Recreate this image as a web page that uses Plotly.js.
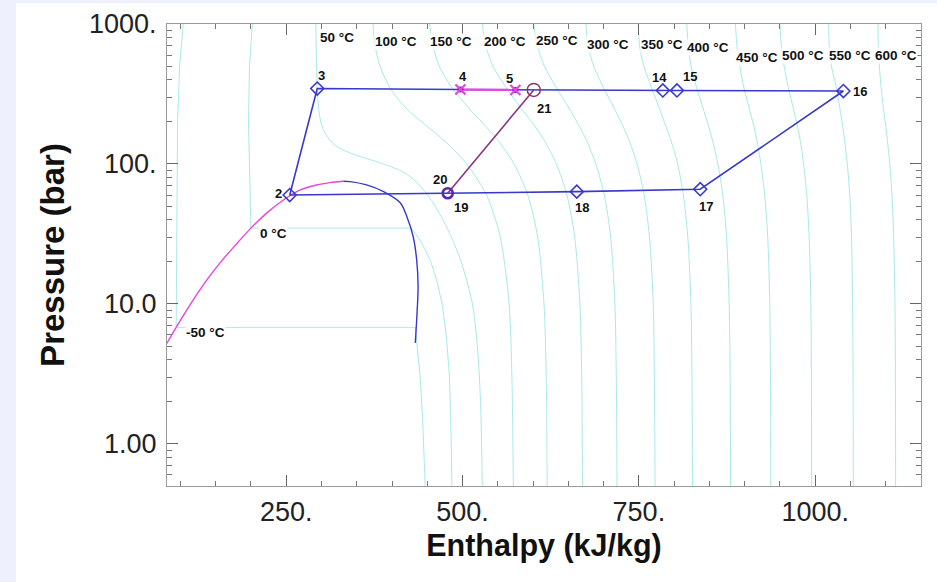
<!DOCTYPE html>
<html><head><meta charset="utf-8">
<script src="https://cdn.plot.ly/plotly-3.0.1.min.js"></script>
<style>html,body{margin:0;padding:0;background:#fff;}#chart{width:937px;height:582px;}</style>
</head><body><div id="chart"></div>
<script>
// ---------- data ----------
// cycle state points: enthalpy (kJ/kg), pressure (bar)
const pointNames = ['2','3','4','5','21','14','15','16','17','18','19','20'];
const pointH     = [255, 294, 497, 575, 601, 784, 804, 1040, 837, 662, 479, 479];
const pointP     = [60.0, 346, 340, 338, 338, 335, 335, 332, 66.0, 63.4, 61.8, 61.8];

const loopOrder    = ['2','3','4','5','21','14','15','16','17','18','19','2'];
const diamondPts   = ['2','3','14','15','16','17','18'];
const crossPts     = ['4','5'];
const magentaSeg   = ['4','5'];
const purpleSeg    = ['20','21'];

// saturation dome
const satLiqH = [80.5, 94, 115, 136, 157, 178, 200, 223, 246, 270, 293, 312, 331];
const satLiqP = [5.2, 6.8, 10.1, 14.5, 19.9, 26.3, 34.8, 44.9, 55.3, 65.2, 70.8, 73.6, 75.2];
const satVapH = [331, 341, 364, 388, 412, 421, 430, 435, 437, 435, 433];
const satVapP = [75.2, 74.8, 70.8, 63.4, 52.6, 42.1, 30.3, 20.6, 13.3, 7.7, 5.27];

// isotherms
const isoM50H = [104, 99, 96, 95, 94.5, 94, 433, 436, 440, 443.5, 447];
const isoM50P = [1000, 500, 200, 60, 15, 6.8, 6.8, 5, 3, 1.5, 0.5];
const iso0H   = [202, 198, 196.5, 197.5, 200, 427, 437, 446, 455, 463, 471, 477, 481.5, 484, 485];
const iso0P   = [1000, 500, 200, 100, 34.8, 34.8, 30, 25, 20, 15, 10, 6, 3, 1, 0.5];
const iso50H  = [292, 292.5, 293, 294, 296, 299, 304, 311, 320, 332, 350, 375, 400, 420, 436, 456, 478, 498, 514, 521, 525.5, 528];
const iso50P  = [1000, 700, 500, 350, 250, 200, 170, 150, 135, 125, 115, 105, 95, 85, 73, 55, 35, 20, 10, 5, 2, 0.5];
const isoP    = [1000, 700, 500, 350, 250, 200, 150, 100, 60, 30, 10, 3, 0.5];
const iso100H = [373, 376, 383, 397, 420, 442, 472, 506, 534, 553.5, 566, 570, 572];
const iso150H = [453, 458, 467, 485, 509, 527, 549, 573, 592.5, 606.5, 615.5, 618.7, 620];
const iso200H = [528, 533, 543, 562, 583, 598, 615, 633, 648, 659, 666.4, 669, 670];
const iso250H = [601, 606, 616, 633, 651, 662, 675, 689, 701, 710, 716, 718, 719];
const iso300H = [675, 678, 686, 700, 715, 724.5, 735.5, 747.5, 757.5, 765, 770.4, 772, 773];
const iso350H = [749, 751, 757, 768, 779, 786, 795, 805, 813, 819.4, 823.8, 825.3, 826];
const iso400H = [818, 820, 824, 832, 841, 847, 854, 862, 869, 874.3, 878, 879.4, 880];
const iso450H = [887, 889, 893, 899, 906.5, 911.5, 917, 923, 928.4, 932.7, 935.6, 936.6, 937];
const iso500H = [950, 952, 956, 962, 969, 973.5, 978.5, 983.5, 988, 991.4, 993.8, 994.6, 995];
const iso550H = [1019, 1020, 1023, 1030, 1035, 1038, 1041.5, 1045.5, 1049, 1051.5, 1053, 1053.7, 1054];
const iso600H = [1089, 1089.5, 1091, 1093.5, 1096.7, 1099.2, 1102.2, 1105.7, 1108.8, 1111.3, 1113.1, 1113.7, 1114];

const tempLabels = ['50 °C','100 °C','150 °C','200 °C','250 °C','300 °C','350 °C','400 °C','450 °C','500 °C','550 °C','600 °C','0 °C','-50 °C'];

const xTickVals = [250, 500, 750, 1000];
const xTickText = ['250.', '500.', '750.', '1000.'];
const yTickVals = [1, 10, 100, 1000];
const yTickText = ['1.00', '10.0', '100.', '1000.'];

// ---------- layout helpers (positions/styles only) ----------
const X0 = 167, PW = 754, Y0 = 24, PH = 462;
const pxX = px => (px - X0) / PW;
const pxY = py => (Y0 + PH - py) / PH;
const tempLabelPx = [[337,37.3],[396,41.7],[451,41.7],[505,41.7],[557,40],[608,44.3],[662,44.3],[708,47.3],[756.5,57.3],[803,55.7],[850,55.7],[895.5,55.7],[273,233.3],[205.5,332.3]];
const pointLabelShift = {'2':[-11.6,1.7],'3':[4.4,12.6],'4':[2.7,13.3],'5':[-5.5,11.7],'21':[10,-18.3],'14':[-3.4,13.3],'15':[12.6,14.3],'16':[16.7,-0.7],'17':[6,-17.4],'18':[5,-16],'19':[13.3,-14.4],'20':[-7.7,13.3]};

const FONT = 'Liberation Sans, Arial, Helvetica, sans-serif';
const ISO = '#a9e9e9';
const BLUE = '#3838cc';
const PINK = '#e645e0';
const PURPLE = '#8c3580';

const idx = n => pointNames.indexOf(n);
const hOf = list => list.map(n => pointH[idx(n)]);
const pOf = list => list.map(n => pointP[idx(n)]);

const traces = [];
function iso(h, p, shape) {
  traces.push({x: h, y: p, type: 'scatter', mode: 'lines', hoverinfo: 'skip',
    line: {color: ISO, width: 1, shape: shape || 'spline', smoothing: 0.8}});
}
iso(isoM50H, isoM50P, 'linear');
iso(iso0H, iso0P, 'linear');
iso(iso50H, iso50P);
[iso100H, iso150H, iso200H, iso250H, iso300H, iso350H, iso400H, iso450H, iso500H, iso550H, iso600H].forEach(h => iso(h, isoP));

traces.push({x: satLiqH, y: satLiqP, type: 'scatter', mode: 'lines', line: {color: PINK, width: 1.4, shape: 'spline', smoothing: 0.8}});
traces.push({x: satVapH, y: satVapP, type: 'scatter', mode: 'lines', line: {color: BLUE, width: 1.4, shape: 'spline', smoothing: 0.8}});
traces.push({x: hOf(loopOrder), y: pOf(loopOrder), type: 'scatter', mode: 'lines', line: {color: BLUE, width: 1.6}});
traces.push({x: hOf(magentaSeg), y: pOf(magentaSeg), type: 'scatter', mode: 'lines', line: {color: PINK, width: 2.2}});
traces.push({x: hOf(purpleSeg), y: pOf(purpleSeg), type: 'scatter', mode: 'lines', line: {color: PURPLE, width: 1.6}});
traces.push({x: hOf(diamondPts), y: pOf(diamondPts), type: 'scatter', mode: 'markers',
  marker: {symbol: 'diamond-open', size: 10, line: {color: BLUE, width: 1.6}, color: BLUE}});
traces.push({x: hOf(crossPts), y: pOf(crossPts), type: 'scatter', mode: 'markers',
  marker: {symbol: 'circle', size: 6, color: '#4a2ad8'}});
traces.push({x: hOf(crossPts), y: pOf(crossPts), type: 'scatter', mode: 'markers',
  marker: {symbol: 'x-thin-open', size: 10, line: {color: PINK, width: 2.2}, color: PINK}});
traces.push({x: hOf(['21']), y: pOf(['21']), type: 'scatter', mode: 'markers',
  marker: {symbol: 'circle-open', size: 13, line: {color: '#8a3468', width: 1.5}, color: '#8a3468'}});
traces.push({x: hOf(['19']), y: pOf(['19']), type: 'scatter', mode: 'markers',
  marker: {symbol: 'circle-open', size: 10, line: {color: '#5a28b8', width: 2.6}, color: '#5a28b8'}});

const annotations = [];
pointNames.forEach((n, i) => {
  const s = pointLabelShift[n];
  annotations.push({x: pointH[i], y: Math.log10(pointP[i]), xref: 'x', yref: 'y', text: n, showarrow: false,
    xshift: s[0], yshift: s[1], font: {family: FONT, size: 13, color: '#111', weight: 'bold'}});
});
tempLabels.forEach((t, i) => {
  const p = tempLabelPx[i];
  annotations.push({x: pxX(p[0]), y: pxY(p[1]), xref: 'paper', yref: 'paper', text: t, showarrow: false,
    xanchor: 'center', yanchor: 'middle', bgcolor: 'white', borderpad: 0,
    font: {family: FONT, size: 13.5, color: '#111', weight: 'bold'}});
});

const axisCommon = {
  ticks: 'inside', ticklen: 11, tickwidth: 1, tickcolor: '#666',
  showline: true, linecolor: '#9a9a9a', linewidth: 1, mirror: 'ticks',
  showgrid: false, zeroline: false,
  tickfont: {family: FONT, size: 27, color: '#222'}
};

const layout = {
  width: 937, height: 582,
  margin: {l: X0, r: 937 - X0 - PW, t: Y0, b: 582 - Y0 - PH},
  paper_bgcolor: 'white', plot_bgcolor: 'white',
  showlegend: false,
  xaxis: Object.assign({}, axisCommon, {
    range: [81, 1150], tickmode: 'array', tickvals: xTickVals, ticktext: xTickText,
    minor: {tickmode: 'linear', tick0: 0, dtick: 50, ticks: 'inside', ticklen: 5, tickcolor: '#777', showgrid: false},
    ticklabelstandoff: 2,
    title: {text: 'Enthalpy (kJ/kg)', font: {family: FONT, size: 30.5, color: '#111', weight: 'bold'}, standoff: 8}
  }),
  yaxis: Object.assign({}, axisCommon, {
    type: 'log', range: [Math.log10(0.5), 3], tickmode: 'array', tickvals: yTickVals, ticktext: yTickText,
    minor: {dtick: 'D1', ticks: 'inside', ticklen: 5, tickcolor: '#777', showgrid: false},
    ticklabelstandoff: 4,
    title: {text: 'Pressure (bar)', font: {family: FONT, size: 33, color: '#111', weight: 'bold'}, standoff: 14}
  }),
  annotations: annotations,
  shapes: [
    {type: 'rect', xref: 'paper', yref: 'paper', x0: pxX(0), x1: pxX(16), y0: pxY(582), y1: pxY(0), fillcolor: '#eff0fd', line: {width: 0}, layer: 'below'},
    {type: 'rect', xref: 'paper', yref: 'paper', x0: pxX(0), x1: pxX(937), y0: pxY(3), y1: pxY(0), fillcolor: '#eff0fd', line: {width: 0}, layer: 'below'}
  ]
};

Plotly.newPlot('chart', traces, layout, {displayModeBar: false, staticPlot: true});
</script></body></html>
